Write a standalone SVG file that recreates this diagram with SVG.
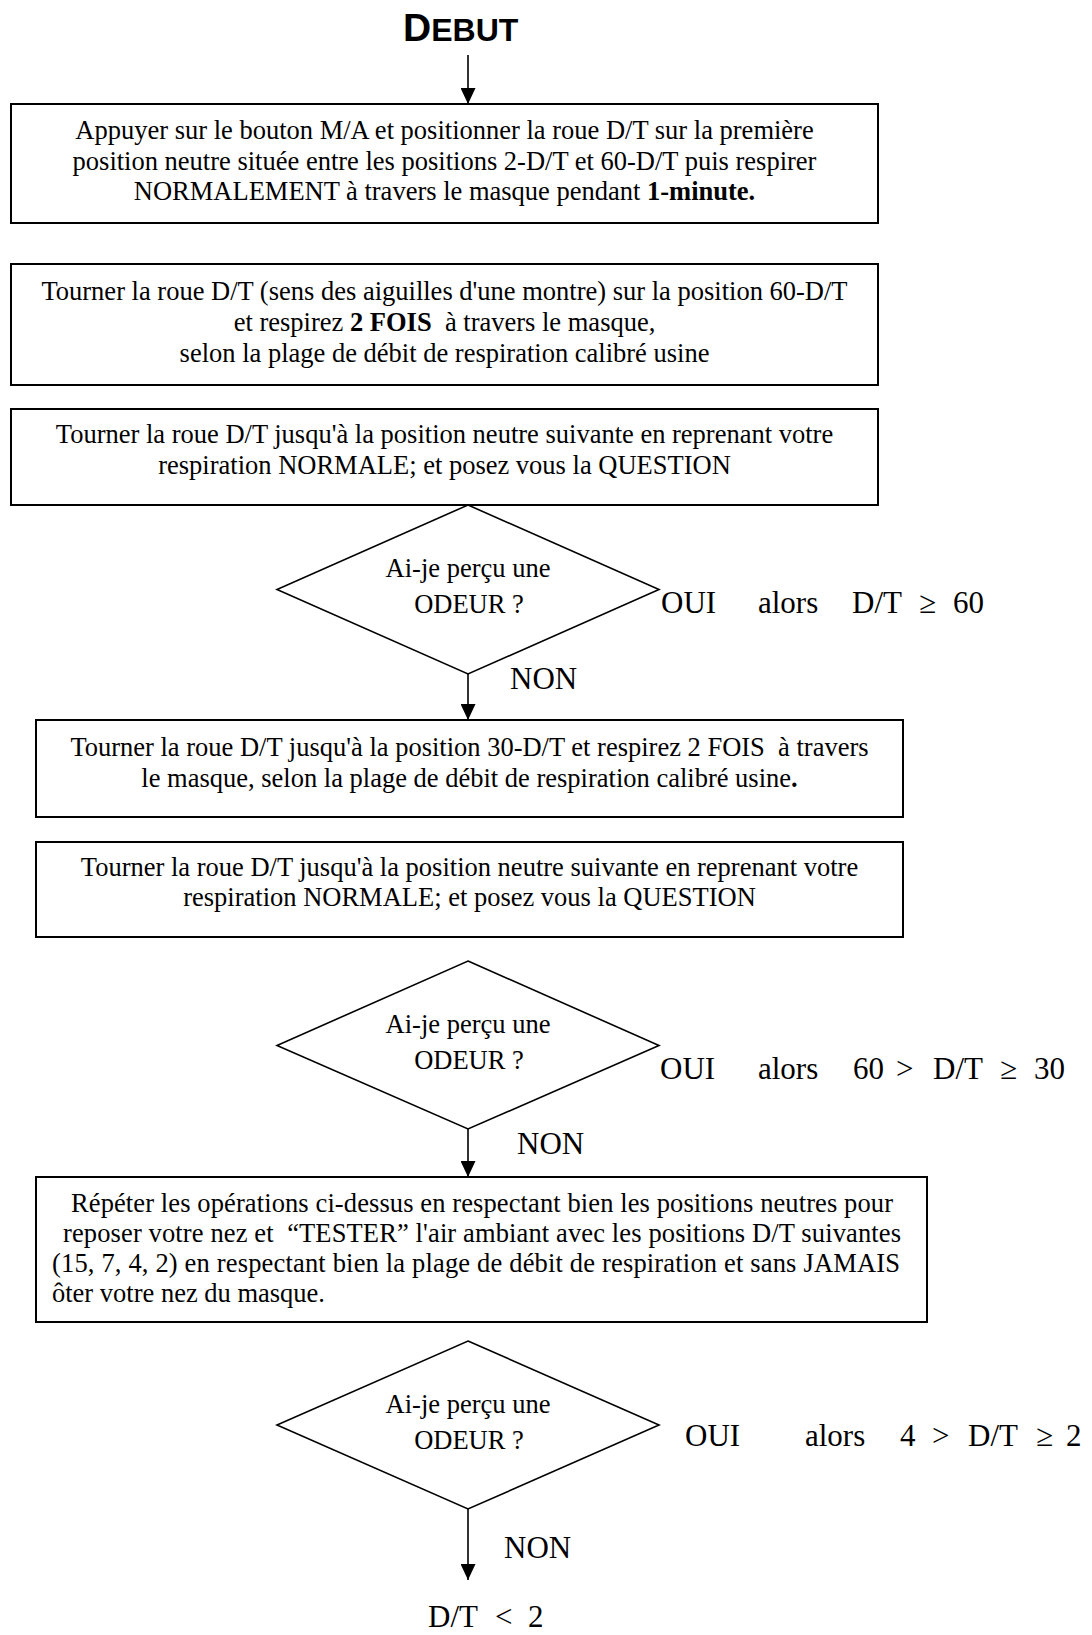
<svg xmlns="http://www.w3.org/2000/svg" width="1092" height="1635" viewBox="0 0 1092 1635">
<style>
.box{fill:#fff;stroke:#000;stroke-width:2}
.dia{fill:#fff;stroke:#000;stroke-width:1.6}
.t{font-family:"Liberation Serif","Times New Roman",serif;font-size:26.5px;fill:#000}
.c{text-anchor:middle}
.l{font-family:"Liberation Serif","Times New Roman",serif;font-size:31px;fill:#000}
.b{font-weight:bold}
.conn{stroke:#000;stroke-width:1.6;fill:none;marker-end:url(#arr)}
.h{font-family:"Liberation Sans",Arial,sans-serif;font-weight:bold;fill:#000}
</style>
<defs>
<marker id="arr" markerUnits="userSpaceOnUse" markerWidth="16" markerHeight="15" refX="16" refY="7.5" orient="auto"><path d="M0,0 L16,7.5 L0,15 z" fill="#000"/></marker>
</defs>
<g id="debut">
<text class="h" x="403" y="41"><tspan font-size="39">D</tspan><tspan font-size="32">EBUT</tspan></text>
</g>
<g id="box1">
<rect class="box" x="11" y="104" width="867" height="119"/>
<text class="t c" x="444.5" y="139">Appuyer sur le bouton M/A et positionner la roue D/T sur la première</text>
<text class="t c" x="444.5" y="169.5">position neutre située entre les positions 2-D/T et 60-D/T puis respirer</text>
<text class="t c" x="444.5" y="200">NORMALEMENT à travers le masque pendant <tspan class="b">1-minute.</tspan></text>
</g>
<g id="box2">
<rect class="box" x="11" y="264" width="867" height="121"/>
<text class="t c" x="444.5" y="300">Tourner la roue D/T (sens des aiguilles d'une montre) sur la position 60-D/T</text>
<text class="t c" x="444.5" y="331" xml:space="preserve">et respirez <tspan class="b">2 FOIS</tspan>  à travers le masque,</text>
<text class="t c" x="444.5" y="361.5">selon la plage de débit de respiration calibré usine</text>
</g>
<g id="box3">
<rect class="box" x="11" y="409" width="867" height="96"/>
<text class="t c" x="444.5" y="443">Tourner la roue D/T jusqu'à la position neutre suivante en reprenant votre</text>
<text class="t c" x="444.5" y="474">respiration NORMALE; et posez vous la QUESTION</text>
</g>
<g id="decision1">
<polygon class="dia" points="468,505 659,589.5 468,674 277,589.5"/>
<text class="t c" x="468" y="577">Ai-je perçu une</text>
<text class="t c" x="469" y="613">ODEUR ?</text>
</g>
<g id="oui1">
<text class="l" y="613"><tspan x="661">OUI</tspan><tspan x="758">alors</tspan><tspan x="852">D/T</tspan><tspan x="919">≥</tspan><tspan x="953">60</tspan></text>
</g>
<g id="non1"><text class="l" x="510" y="689">NON</text></g>
<g id="box4">
<rect class="box" x="36" y="720" width="867" height="97"/>
<text class="t c" x="469.5" y="756" xml:space="preserve">Tourner la roue D/T jusqu'à la position 30-D/T et respirez 2 FOIS  à travers</text>
<text class="t c" x="469.5" y="787">le masque, selon la plage de débit de respiration calibré usine<tspan class="b">.</tspan></text>
</g>
<g id="box5">
<rect class="box" x="36" y="842" width="867" height="95"/>
<text class="t c" x="469.5" y="876">Tourner la roue D/T jusqu'à la position neutre suivante en reprenant votre</text>
<text class="t c" x="469.5" y="906">respiration NORMALE; et posez vous la QUESTION</text>
</g>
<g id="decision2">
<polygon class="dia" points="468,961 659,1045.5 468,1129 277,1045.5"/>
<text class="t c" x="468" y="1033">Ai-je perçu une</text>
<text class="t c" x="469" y="1069">ODEUR ?</text>
</g>
<g id="oui2">
<text class="l" y="1079"><tspan x="660">OUI</tspan><tspan x="758">alors</tspan><tspan x="853">60</tspan><tspan x="896">&gt;</tspan><tspan x="933">D/T</tspan><tspan x="1000">≥</tspan><tspan x="1034">30</tspan></text>
</g>
<g id="non2"><text class="l" x="517" y="1154">NON</text></g>
<g id="box6">
<rect class="box" x="36" y="1177" width="891" height="145"/>
<text class="t" x="71" y="1212" textLength="822" lengthAdjust="spacing">Répéter les opérations ci-dessus en respectant bien les positions neutres pour</text>
<text class="t" x="63" y="1242" textLength="838" lengthAdjust="spacing" xml:space="preserve">reposer votre nez et  “TESTER” l'air ambiant avec les positions D/T suivantes</text>
<text class="t" x="52" y="1272" textLength="848" lengthAdjust="spacing">(15, 7, 4, 2) en respectant bien la plage de débit de respiration et sans JAMAIS</text>
<text class="t" x="52" y="1302">ôter votre nez du masque.</text>
</g>
<g id="decision3">
<polygon class="dia" points="468,1341 659,1425 468,1509 277,1425"/>
<text class="t c" x="468" y="1413">Ai-je perçu une</text>
<text class="t c" x="469" y="1449">ODEUR ?</text>
</g>
<g id="oui3">
<text class="l" y="1446"><tspan x="685">OUI</tspan><tspan x="805">alors</tspan><tspan x="900">4</tspan><tspan x="932">&gt;</tspan><tspan x="968">D/T</tspan><tspan x="1036">≥</tspan><tspan x="1066">2</tspan></text>
</g>
<g id="non3"><text class="l" x="504" y="1558">NON</text></g>
<g id="end">
<text class="l" y="1627"><tspan x="428">D/T</tspan><tspan x="495">&lt;</tspan><tspan x="528">2</tspan></text>
</g>
<g id="connectors">
<line class="conn" x1="468" y1="55" x2="468" y2="104"/>
<line class="conn" x1="468" y1="674" x2="468" y2="720"/>
<line class="conn" x1="468" y1="1129" x2="468" y2="1177"/>
<line class="conn" x1="468" y1="1509" x2="468" y2="1580"/>
</g>
</svg>
